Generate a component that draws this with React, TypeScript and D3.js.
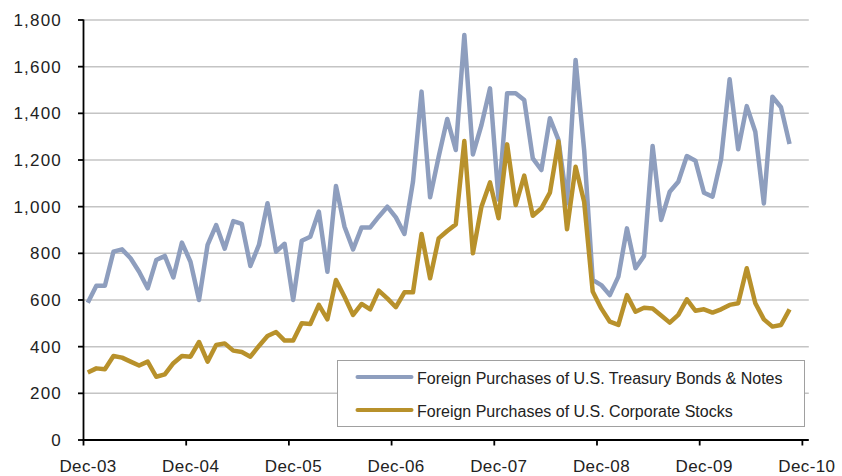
import React from 'react';
import * as d3 from 'd3';

const yTicks = [0, 200, 400, 600, 800, 1000, 1200, 1400, 1600, 1800];
const xTickLabels = ['Dec-03', 'Dec-04', 'Dec-05', 'Dec-06', 'Dec-07', 'Dec-08', 'Dec-09', 'Dec-10'];
const seriesNames = [
  'Foreign Purchases of U.S. Treasury Bonds & Notes',
  'Foreign Purchases of U.S. Corporate Stocks',
];

// monthly values, Jan-04 .. Nov-10
const treasury = [
  588, 661, 661, 807, 817, 779, 721, 650, 771, 789, 697, 846,
  764, 600, 836, 921, 820, 938, 926, 746, 836, 1015, 807, 841,
  600, 854, 871, 979, 721, 1089, 914, 817, 911, 911, 957, 1000,
  954, 883, 1107, 1493, 1040, 1214, 1376, 1243, 1736, 1224, 1350, 1507,
  1030, 1486, 1486, 1457, 1207, 1157, 1379, 1286, 1014, 1629, 1243, 686,
  664, 621, 700, 907, 736, 789, 1260, 943, 1064, 1107, 1217, 1197,
  1060, 1043, 1203, 1546, 1246, 1431, 1321, 1014, 1471, 1426, 1269,
];
const stocks = [
  289, 307, 303, 360, 353, 336, 319, 336, 271, 281, 329, 360,
  357, 420, 336, 407, 414, 383, 377, 357, 403, 446, 463, 426,
  426, 500, 497, 579, 517, 686, 614, 536, 583, 560, 640, 607,
  569, 633, 633, 883, 693, 864, 896, 924, 1281, 800, 1000, 1104,
  950, 1267, 1007, 1133, 961, 993, 1060, 1279, 903, 1171, 1021, 636,
  564, 507, 493, 621, 550, 567, 564, 534, 503, 536, 603, 554,
  560, 546, 560, 579, 586, 736, 586, 517, 486, 493, 560,
];

const BLUE = '#8E9EBE';
const GOLD = '#B8912B';
const FONT = '"Liberation Sans", Arial, sans-serif';

export default function App() {
  const W = 842;
  const H = 476;
  const left = 83.5;
  const right = 808.8;
  const top = 20;
  const bottom = 440;
  const x = d3.scaleLinear().domain([0, 84.75]).range([left, right]);
  const y = d3.scaleLinear().domain([0, 1800]).range([bottom, top]);
  const line = d3
    .line<number>()
    .x((_, i) => x(i + 0.5))
    .y((d) => y(d));
  const fmt = d3.format(',');

  return (
    <div style={{ position: 'fixed', left: 0, top: 0, width: W, height: H, background: '#fff' }}>
      <svg width={W} height={H} style={{ display: 'block' }}>
        <rect x={0} y={0} width={W} height={H} fill="#fff" />
        {yTicks.map((t) =>
          t === 0 ? null : (
            <line key={'g' + t} x1={left} x2={right} y1={y(t)} y2={y(t)} stroke="#C4C4C4" strokeWidth={1.5} />
          )
        )}
        {yTicks.map((t) => (
          <g key={'yt' + t}>
            <line x1={left - 5.5} x2={left} y1={y(t)} y2={y(t)} stroke="#000" strokeWidth={1.8} />
            <text
              x={62}
              y={y(t) + 6}
              textAnchor="end"
              fontFamily={FONT}
              fontSize={17}
              letterSpacing={1.2}
              fill="#222"
            >
              {fmt(t)}
            </text>
          </g>
        ))}
        {xTickLabels.map((lab, k) => (
          <g key={lab}>
            <line x1={x(k * 12)} x2={x(k * 12)} y1={bottom} y2={bottom + 5.5} stroke="#000" strokeWidth={1.8} />
            <text
              x={x(k * 12) + 4.5}
              y={471.5}
              textAnchor="middle"
              fontFamily={FONT}
              fontSize={17}
              letterSpacing={0.4}
              fill="#222"
            >
              {lab}
            </text>
          </g>
        ))}
        <path d={line(treasury) || ''} fill="none" stroke={BLUE} strokeWidth={4.5} strokeLinejoin="round" strokeLinecap="butt" />
        <path d={line(stocks) || ''} fill="none" stroke={GOLD} strokeWidth={4.5} strokeLinejoin="round" strokeLinecap="butt" />
        <line x1={left} x2={left} y1={top - 0.5} y2={bottom + 1} stroke="#000" strokeWidth={1.8} />
        <line x1={left - 1} x2={right} y1={bottom} y2={bottom} stroke="#000" strokeWidth={1.8} />
        <g>
          <rect x={337.5} y={360.5} width={467} height={66} fill="#fff" stroke="#A0A0A0" strokeWidth={1} />
          {seriesNames.map((name, i) => (
            <g key={name}>
              <line
                x1={357.5}
                x2={411.5}
                y1={377 + i * 33}
                y2={377 + i * 33}
                stroke={i === 0 ? BLUE : GOLD}
                strokeWidth={4}
                strokeLinecap="round"
              />
              <text x={417} y={383.5 + i * 33} fontFamily={FONT} fontSize={16} fill="#222">
                {name}
              </text>
            </g>
          ))}
        </g>
      </svg>
    </div>
  );
}
